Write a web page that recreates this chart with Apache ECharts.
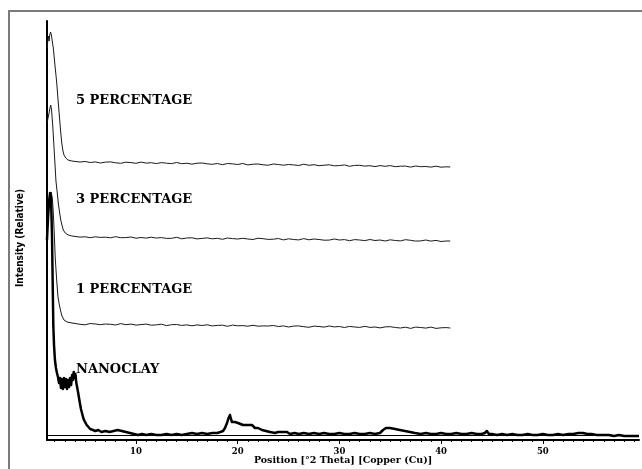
<!DOCTYPE html>
<html>
<head>
<meta charset="utf-8">
<script src="https://cdn.jsdelivr.net/npm/echarts@6/dist/echarts.min.js"></script>
<style>
html,body{margin:0;padding:0;background:#fff;}
#chart{width:642px;height:469px;}
</style>
</head>
<body>
<div id="chart"></div>
<script>
// X: position in degrees 2-theta ; Y: relative intensity (stacked patterns as plotted)
const xMajorTicks = [10, 20, 30, 40, 50];
const xMinorTicks = [2,3,4,5,6,7,8,9,11,12,13,14,15,16,17,18,19,21,22,23,24,25,26,27,28,29,31,32,33,34,35,36,37,38,39,41,42,43,44,45,46,47,48,49,51,52,53,54,55,56,57,58,59];
const seriesNames = ['5 PERCENTAGE', '3 PERCENTAGE', '1 PERCENTAGE', 'NANOCLAY'];

const pct5 = [[1.25,392],[1.32,398],[1.40,404],[1.46,399],[1.52,405],[1.60,408],[1.68,405],[1.75,400],[1.87,392],[2.03,375],[2.20,358],[2.33,341],[2.46,325],[2.58,310],[2.69,298],[2.80,290],[2.92,285],[3.10,282],[3.31,280],[3.7,279],[4.1,278.4],
[4.5,278.0],[5.0,278.5],[5.5,277.5],[6.0,278.1],[6.5,277.0],[7.0,277.9],[7.5,278.1],[8.0,277.2],[8.5,276.7],[9.0,277.8],[9.5,277.4],[10,276.7],[10.5,277.9],[11,276.9],[11.5,277.3],[12,276.4],[12.5,277.4],[13,276.8],[13.5,276.4],[14,277.5],[14.5,276.3],[15,276.8],[15.5,275.8],[16,276.8],[16.5,277.0],[17,276.2],[17.5,275.7],[18,276.5],[18.5,275.3],[19,276.5],[19.5,276.1],[20,275.5],[20.5,276.5],[21,275.1],[21.5,275.8],[22,276.0],[22.5,275.2],[23,274.8],[23.5,276.0],[24,275.5],[24.5,274.8],[25,275.5],[25.5,275.1],[26,274.5],[26.5,275.8],[27,274.7],[27.5,275.3],[28,274.3],[28.5,274.8],[29,275.2],[29.5,274.2],[30,274.4],[30.5,275.1],[31,273.7],[31.5,274.6],[32,274.7],[32.5,273.9],[33,274.3],[33.5,273.4],[34,274.4],[34.5,273.7],[35,274.4],[35.5,273.3],[36,273.8],[36.5,273.9],[37,272.9],[37.5,274.0],[38,273.3],[38.5,273.5],[39,272.9],[39.5,273.8],[40,272.8],[40.5,273.2],[40.9,273.0]];

const pct3 = [[1.28,318],[1.35,322],[1.40,320],[1.47,328],[1.54,332],[1.61,335],[1.69,331],[1.81,315],[1.92,296],[2.04,275],[2.13,259],[2.26,247],[2.36,237],[2.48,228],[2.60,220],[2.72,215],[2.85,210],[3.05,207],[3.34,205],[3.7,204],[4.1,203.4],
[4.5,202.9],[5.0,203.2],[5.5,202.3],[6.0,203.2],[6.5,202.6],[7.0,202.8],[7.5,202.2],[8.0,203.3],[8.5,202.3],[9.0,202.4],[9.5,203.0],[10,201.8],[10.5,202.5],[11,201.9],[11.5,202.8],[12,202.0],[12.5,202.4],[13,201.6],[13.5,201.7],[14,202.7],[14.5,201.2],[15,202.0],[15.5,202.2],[16,201.1],[16.5,201.6],[17,202.1],[17.5,201.2],[18,201.7],[18.5,200.7],[19,202.0],[19.5,201.4],[20,201.0],[20.5,201.7],[21,201.0],[21.5,200.5],[22,201.8],[22.5,201.3],[23,200.6],[23.5,200.8],[24,201.5],[24.5,200.1],[25,201.2],[25.5,200.5],[26,200.1],[26.5,201.4],[27,200.2],[27.5,201.0],[28,200.5],[28.5,199.8],[29,199.9],[29.5,201.0],[30,200.0],[30.5,200.4],[31,199.3],[31.5,200.4],[32,200.0],[32.5,199.4],[33,200.5],[33.5,199.5],[34,200.0],[34.5,199.0],[35,200.2],[35.5,199.5],[36,199.1],[36.5,200.3],[37,199.7],[37.5,198.9],[38,199.1],[38.5,200.0],[39,198.9],[39.5,199.6],[40,198.5],[40.5,199.0],[40.9,199.0]];

const pct1 = [[1.28,225],[1.36,230],[1.45,237],[1.52,242],[1.59,245],[1.66,248],[1.71,247],[1.79,240],[1.87,227],[1.97,205],[2.06,182],[2.20,160],[2.33,143],[2.43,137],[2.53,132],[2.62,128],[2.72,124],[2.92,120],[3.22,118],[3.71,117],[4.1,116.4],
[4.5,115.7],[5.0,115.2],[5.5,116.5],[6.0,116.0],[6.5,115.3],[7.0,116.0],[7.5,115.7],[8.0,115.0],[8.5,116.4],[9.0,115.3],[9.5,115.9],[10,114.9],[10.5,115.4],[11,115.9],[11.5,114.8],[12,115.1],[12.5,115.8],[13,114.4],[13.5,115.3],[14,115.5],[14.5,114.6],[15,115.1],[15.5,114.2],[16,115.1],[16.5,114.5],[17,115.2],[17.5,114.1],[18,114.6],[18.5,114.8],[19,113.7],[19.5,114.9],[20,114.2],[20.5,114.4],[21,113.8],[21.5,114.7],[22,113.8],[22.5,114.1],[23,114.0],[23.5,114.5],[24,113.5],[24.5,114.1],[25,113.0],[25.5,113.9],[26,114.1],[26.5,113.3],[27,112.7],[27.5,113.9],[28,113.5],[28.5,112.9],[29,114.0],[29.5,113.1],[30,113.5],[30.5,112.5],[31,113.6],[31.5,113.0],[32,112.6],[32.5,113.7],[33,112.6],[33.5,113.0],[34,112.1],[34.5,113.1],[35,113.3],[35.5,112.5],[36,112.0],[36.5,112.8],[37,111.6],[37.5,112.9],[38,112.5],[38.5,111.9],[39,112.9],[39.5,111.6],[40,112.2],[40.5,112.4],[40.9,112.0]];

const nanoclay = [[1.25,200],[1.35,222],[1.45,238],[1.55,247],[1.64,244],[1.74,205],[1.82,150],[1.87,115],[1.94,95],[2.03,80],[2.13,72],[2.23,67],[2.33,63],[2.43,57],[2.53,62],[2.62,52],[2.72,61],[2.82,51],[2.92,62],[3.02,53],[3.12,61],[3.22,51],[3.32,60],[3.42,53],[3.52,62],[3.62,55],[3.72,65],[3.80,60],[3.88,68],[3.96,62],[4.05,66],[4.12,58],[4.20,56],[4.30,48],[4.40,42],[4.50,36],[4.59,31],[4.69,27],[4.79,23],[4.89,20],[4.99,18],[5.15,15],[5.28,13],[5.5,11],[5.77,10],[6.0,9],[6.3,10],[6.6,8],[7.0,9],[7.4,8],[7.8,9],[8.2,10],[8.6,9],[9.0,8],[9.4,7],[9.8,6],[10.2,5],[10.6,6],[11.0,5],[11.5,6],[12.0,5],[12.5,5],[13.0,6],[13.5,5],[14.0,6],[14.5,5],[15.0,6],[15.5,7],[16.0,6],[16.5,7],[17.0,6],[17.5,7],[18.0,7],[18.3,8],[18.56,9],[18.75,12],[18.95,17],[19.1,22],[19.24,25],[19.34,21],[19.44,18],[19.59,20],[19.74,18],[20.03,17],[20.22,16],[20.52,15],[21.01,15],[21.41,15],[21.70,12],[22.0,12],[22.39,10],[22.78,9],[23.18,8],[23.67,7],[23.96,8],[24.36,8],[24.85,8],[25.14,6],[25.6,7],[26.0,6],[26.5,7],[27.0,6],[27.5,7],[28.0,6],[28.5,7],[29.0,6],[29.5,6],[30.0,7],[30.5,6],[31.0,6],[31.5,7],[32.0,6],[32.5,6],[33.0,7],[33.5,6],[33.99,7],[34.29,10],[34.58,12],[34.98,12],[35.47,11],[35.96,10],[36.45,9],[36.94,8],[37.43,7],[38.0,6],[38.5,7],[39.0,6],[39.5,6],[40.0,7],[40.5,6],[41.0,6],[41.5,7],[42.0,6],[42.5,6],[43.0,7],[43.5,6],[44.0,6],[44.3,7],[44.5,9],[44.7,6],[45.0,6],[45.5,5],[46.0,6],[46.5,5],[47.0,6],[47.5,5],[48.0,5],[48.5,6],[49.0,5],[49.5,5],[50.0,6],[50.5,5],[51.0,5],[51.5,6],[52.0,5],[52.5,6],[53.0,6],[53.5,7],[53.95,7],[54.4,6],[54.8,6],[55.3,5],[56.0,5],[56.5,5],[57.0,4],[57.5,5],[58.0,4],[58.5,4],[59.0,4],[59.46,4]];

const nanoBackground = [[1.25,4.5],[59.46,4.5]];

const xMin = 1.25, xMax = 59.46;

const chart = echarts.init(document.getElementById('chart'), null, {renderer:'canvas'});
const serifBold = '"DejaVu Serif", "Liberation Serif", serif';

const option = {
  animation: false,
  backgroundColor: '#fff',
  grid: {left: 47, right: 3, top: 21, bottom: 29, containLabel: false, outerBoundsMode: 'none'},
  xAxis: [{
    type: 'value', min: xMin, max: xMax, position: 'bottom',
    name: 'Position [°2 Theta] [Copper (Cu)]', nameLocation: 'middle', nameGap: 16, nameMoveOverlap: false,
    nameTextStyle: {fontFamily: serifBold, fontWeight: 'bold', fontSize: 9.5, color: '#000'},
    axisLine: {show: true, onZero: false, lineStyle: {color: '#000', width: 2}},
    axisTick: {show: true, customValues: xMajorTicks, length: 4, lineStyle: {color: '#000', width: 1}},
    axisLabel: {show: true, customValues: xMajorTicks, margin: 7, fontFamily: serifBold, fontWeight: 'bold', fontSize: 8.5, color: '#000'},
    splitLine: {show: false}
  }, {
    type: 'value', min: xMin, max: xMax, position: 'bottom',
    axisLine: {show: false},
    axisTick: {show: true, customValues: xMinorTicks, length: 2, lineStyle: {color: '#000', width: 1}},
    axisLabel: {show: false},
    splitLine: {show: false}
  }],
  yAxis: {
    type: 'value', min: 0, max: 419,
    axisLine: {show: true, onZero: false, lineStyle: {color: '#000', width: 2}},
    axisTick: {show: false}, axisLabel: {show: false}, splitLine: {show: false}
  },
  series: [
    {name: seriesNames[0], type: 'line', data: pct5, showSymbol: false, lineStyle: {color: '#1a1a1a', width: 1}},
    {name: seriesNames[1], type: 'line', data: pct3, showSymbol: false, lineStyle: {color: '#1a1a1a', width: 1}},
    {name: seriesNames[2], type: 'line', data: pct1, showSymbol: false, lineStyle: {color: '#1a1a1a', width: 1}},
    {name: 'background', type: 'line', data: nanoBackground, showSymbol: false, lineStyle: {color: '#000', width: 1}},
    {name: seriesNames[3], type: 'line', data: nanoclay, showSymbol: false, lineStyle: {color: '#000', width: 2.5, join: 'round'}}
  ],
  graphic: [
    {type: 'rect', silent: true, shape: {x: 9, y: 11, width: 700, height: 500}, style: {fill: 'none', stroke: '#7a7a7a', lineWidth: 2}},
    {type: 'text', x: 20, y: 238, rotation: Math.PI / 2, style: {text: 'Intensity (Relative)', align: 'center', verticalAlign: 'middle', fill: '#000', font: 'bold 10px "Liberation Sans Narrow", "DejaVu Sans Condensed", sans-serif'}},
    {type: 'text', x: 76, y: 101, style: {text: seriesNames[0], verticalAlign: 'middle', fill: '#000', font: 'bold 13px ' + serifBold}},
    {type: 'text', x: 76, y: 200, style: {text: seriesNames[1], verticalAlign: 'middle', fill: '#000', font: 'bold 13px ' + serifBold}},
    {type: 'text', x: 76, y: 290, style: {text: seriesNames[2], verticalAlign: 'middle', fill: '#000', font: 'bold 13px ' + serifBold}},
    {type: 'text', x: 76, y: 370, style: {text: seriesNames[3], verticalAlign: 'middle', fill: '#000', font: 'bold 13px ' + serifBold}}
  ]
};
chart.setOption(option);
</script>
</body>
</html>
